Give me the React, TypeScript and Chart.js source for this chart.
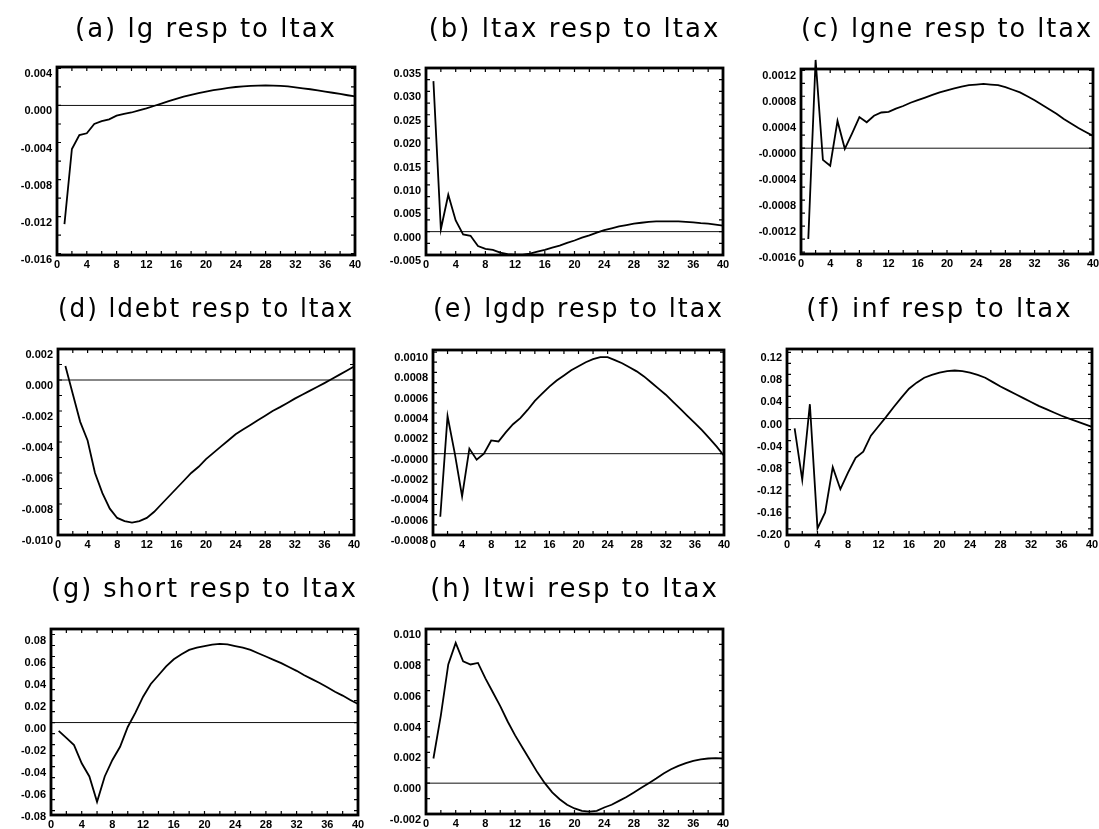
import React, { useEffect, useRef } from "react";
import { Chart, registerables } from "chart.js";

Chart.register(...registerables);

// ---------- data ----------
const horizon = [1, 2, 3, 4, 5, 6, 7, 8, 9, 10, 11, 12, 13, 14, 15, 16, 17, 18, 19, 20,
  21, 22, 23, 24, 25, 26, 27, 28, 29, 30, 31, 32, 33, 34, 35, 36, 37, 38, 39, 40];

const xTickValues = [0, 4, 8, 12, 16, 20, 24, 28, 32, 36, 40];
const xTickLabels = ["0", "4", "8", "12", "16", "20", "24", "28", "32", "36", "40"];

const titles = [
  "(a) lg resp to ltax",
  "(b) ltax resp to ltax",
  "(c) lgne resp to ltax",
  "(d) ldebt resp to ltax",
  "(e) lgdp resp to ltax",
  "(f) inf resp to ltax",
  "(g) short resp to ltax",
  "(h) ltwi resp to ltax",
];

const lgResp = [-0.0128, -0.0047, -0.0032, -0.0030, -0.0020, -0.0017, -0.0015, -0.0011, -0.0009, -0.00076,
  -0.00054, -0.00032, -0.00006, 0.0002, 0.00046, 0.00072, 0.00094, 0.00114, 0.00133, 0.0015,
  0.00165, 0.00177, 0.00189, 0.00199, 0.00206, 0.00211, 0.00214, 0.00216, 0.00215, 0.00212,
  0.00205, 0.00196, 0.00185, 0.00175, 0.00163, 0.0015, 0.00137, 0.00124, 0.0011, 0.00097];

const ltaxResp = [0.0322, 0.0005, 0.0079, 0.0024, -0.0006, -0.0009, -0.0031, -0.0037, -0.0039, -0.0045,
  -0.0048, -0.0049, -0.0049, -0.0047, -0.0043, -0.0039, -0.0034, -0.0030, -0.0024, -0.0019,
  -0.0013, -0.0008, -0.0002, 0.0003, 0.0007, 0.0011, 0.0014, 0.0017, 0.0019, 0.0021,
  0.0022, 0.0022, 0.0022, 0.0022, 0.0021, 0.0020, 0.0018, 0.0017, 0.0015, 0.0013];

const lgneResp = [-0.0014, 0.00136, -0.00018, -0.00027, 0.00042, -0.00001, 0.00023, 0.00048, 0.0004, 0.0005,
  0.00055, 0.00056, 0.00061, 0.00065, 0.0007, 0.00074, 0.00078, 0.00082, 0.00086, 0.00089,
  0.00092, 0.00095, 0.00097, 0.00098, 0.00099, 0.00098, 0.00097, 0.00094, 0.0009, 0.00086,
  0.0008, 0.00074, 0.00067, 0.0006, 0.00053, 0.00045, 0.00038, 0.00031, 0.00025, 0.00019];

const ldebtResp = [0.0009, -0.0009, -0.0027, -0.0039, -0.0060, -0.0073, -0.0083, -0.0089, -0.0091, -0.0092,
  -0.0091, -0.0089, -0.0085, -0.0080, -0.0075, -0.0070, -0.0065, -0.0060, -0.0056, -0.0051,
  -0.0047, -0.0043, -0.0039, -0.0035, -0.0032, -0.0029, -0.0026, -0.0023, -0.0020, -0.00175,
  -0.00148, -0.0012, -0.00095, -0.0007, -0.00045, -0.0002, 0.00006, 0.00033, 0.0006, 0.00087];

const lgdpResp = [-0.00062, 0.00037, 0.0, -0.00042, 0.00005, -0.00006, 0.0, 0.00013, 0.00012, 0.00021,
  0.00029, 0.00035, 0.00043, 0.00052, 0.00059, 0.00066, 0.00072, 0.00077, 0.00082, 0.00086,
  0.0009, 0.00093, 0.00095, 0.00095, 0.00092, 0.00089, 0.00085, 0.00081, 0.00076, 0.0007,
  0.00064, 0.00058, 0.00051, 0.00044, 0.00037, 0.0003, 0.00023, 0.00015, 0.00007, -0.00002];

const infResp = [-0.018, -0.111, 0.026, -0.199, -0.170, -0.088, -0.128, -0.098, -0.071, -0.060,
  -0.031, -0.014, 0.003, 0.021, 0.038, 0.054, 0.065, 0.074, 0.079, 0.083,
  0.086, 0.087, 0.086, 0.083, 0.079, 0.074, 0.066, 0.058, 0.051, 0.044,
  0.037, 0.030, 0.023, 0.017, 0.011, 0.005, 0.000, -0.005, -0.010, -0.015];

const shortResp = [-0.0075, -0.014, -0.0205, -0.037, -0.049, -0.072, -0.049, -0.034, -0.022, -0.004,
  0.009, 0.0235, 0.035, 0.043, 0.051, 0.0575, 0.062, 0.066, 0.068, 0.0695,
  0.0708, 0.0714, 0.071, 0.0695, 0.068, 0.066, 0.063, 0.060, 0.057, 0.054,
  0.0505, 0.047, 0.043, 0.0395, 0.036, 0.032, 0.028, 0.0245, 0.0205, 0.0168];

const ltwiResp = [0.0016, 0.0044, 0.0077, 0.0091, 0.0079, 0.0077, 0.0078, 0.0068, 0.0059, 0.0050,
  0.0040, 0.0031, 0.0023, 0.0015, 0.0007, 0.0, -0.0006, -0.00104, -0.0014, -0.00164,
  -0.0018, -0.00184, -0.0018, -0.00158, -0.0014, -0.00115, -0.0009, -0.0006, -0.0003, 0.0,
  0.0003, 0.00063, 0.0009, 0.00112, 0.0013, 0.00145, 0.00155, 0.0016, 0.00162, 0.0016];

const yTicksA = [-0.016, -0.012, -0.008, -0.004, 0, 0.004];
const yLabelsA = ["-0.016", "-0.012", "-0.008", "-0.004", "0.000", "0.004"];
const yTicksB = [-0.005, 0, 0.005, 0.01, 0.015, 0.02, 0.025, 0.03, 0.035];
const yLabelsB = ["-0.005", "0.000", "0.005", "0.010", "0.015", "0.020", "0.025", "0.030", "0.035"];
const yTicksC = [-0.0016, -0.0012, -0.0008, -0.0004, 0, 0.0004, 0.0008, 0.0012];
const yLabelsC = ["-0.0016", "-0.0012", "-0.0008", "-0.0004", "-0.0000", "0.0004", "0.0008", "0.0012"];
const yTicksD = [-0.01, -0.008, -0.006, -0.004, -0.002, 0, 0.002];
const yLabelsD = ["-0.010", "-0.008", "-0.006", "-0.004", "-0.002", "0.000", "0.002"];
const yTicksE = [-0.0008, -0.0006, -0.0004, -0.0002, 0, 0.0002, 0.0004, 0.0006, 0.0008, 0.001];
const yLabelsE = ["-0.0008", "-0.0006", "-0.0004", "-0.0002", "-0.0000", "0.0002", "0.0004", "0.0006", "0.0008", "0.0010"];
const yTicksF = [-0.2, -0.16, -0.12, -0.08, -0.04, 0, 0.04, 0.08, 0.12];
const yLabelsF = ["-0.20", "-0.16", "-0.12", "-0.08", "-0.04", "0.00", "0.04", "0.08", "0.12"];
const yTicksG = [-0.08, -0.06, -0.04, -0.02, 0, 0.02, 0.04, 0.06, 0.08];
const yLabelsG = ["-0.08", "-0.06", "-0.04", "-0.02", "0.00", "0.02", "0.04", "0.06", "0.08"];
const yTicksH = [-0.002, 0, 0.002, 0.004, 0.006, 0.008, 0.01];
const yLabelsH = ["-0.002", "0.000", "0.002", "0.004", "0.006", "0.008", "0.010"];

const yMins = [-0.01614, -0.005, -0.00163, -0.010, -0.0008, -0.211, -0.084, -0.002];
const yMaxs = [0.00415, 0.035, 0.00122, 0.002, 0.00102, 0.126, 0.085, 0.010];

// ---------- layout (page pixels) ----------
type Rect = { x: number; y: number; w: number; h: number };
type Box = { l: number; t: number; r: number; b: number };

const panels: { title: string; values: number[]; ticks: number[]; labels: string[]; min: number; max: number; canvas: Rect; box: Box }[] = [
  { title: titles[0], values: lgResp, ticks: yTicksA, labels: yLabelsA, min: yMins[0], max: yMaxs[0], canvas: { x: 0, y: 0, w: 368, h: 280 }, box: { l: 57, t: 67, r: 355, b: 255 } },
  { title: titles[1], values: ltaxResp, ticks: yTicksB, labels: yLabelsB, min: yMins[1], max: yMaxs[1], canvas: { x: 368, y: 0, w: 365, h: 280 }, box: { l: 426, t: 68, r: 723, b: 255 } },
  { title: titles[2], values: lgneResp, ticks: yTicksC, labels: yLabelsC, min: yMins[2], max: yMaxs[2], canvas: { x: 733, y: 0, w: 366, h: 280 }, box: { l: 801, t: 69, r: 1093, b: 254 } },
  { title: titles[3], values: ldebtResp, ticks: yTicksD, labels: yLabelsD, min: yMins[3], max: yMaxs[3], canvas: { x: 0, y: 280, w: 368, h: 280 }, box: { l: 58, t: 349, r: 354, b: 535 } },
  { title: titles[4], values: lgdpResp, ticks: yTicksE, labels: yLabelsE, min: yMins[4], max: yMaxs[4], canvas: { x: 368, y: 280, w: 365, h: 280 }, box: { l: 433, t: 350, r: 724, b: 535 } },
  { title: titles[5], values: infResp, ticks: yTicksF, labels: yLabelsF, min: yMins[5], max: yMaxs[5], canvas: { x: 733, y: 280, w: 366, h: 280 }, box: { l: 787, t: 349, r: 1092, b: 535 } },
  { title: titles[6], values: shortResp, ticks: yTicksG, labels: yLabelsG, min: yMins[6], max: yMaxs[6], canvas: { x: 0, y: 560, w: 368, h: 269 }, box: { l: 51, t: 629, r: 358, b: 815 } },
  { title: titles[7], values: ltwiResp, ticks: yTicksH, labels: yLabelsH, min: yMins[7], max: yMaxs[7], canvas: { x: 368, y: 560, w: 365, h: 269 }, box: { l: 426, t: 629, r: 723, b: 814 } },
];

const TITLE_FONT = { family: "'DejaVu Sans', sans-serif", size: 26, weight: "normal" as const, lineHeight: 1.2 };
const TICK_FONT = { family: "'Liberation Sans', Arial, sans-serif", size: 11, weight: "bold" as const };

const framePlugin = {
  id: "frame",
  beforeDraw(chart: any) {
    chart.ctx.letterSpacing = "2px";
  },
  beforeDatasetsDraw(chart: any) {
    chart.ctx.letterSpacing = "0px";
  },
  afterDraw(chart: any) {
    const { ctx, chartArea: a } = chart;
    const x = chart.scales.x;
    const y = chart.scales.y;
    const yt: number[] = chart.options.plugins.frame.yTicks;
    ctx.save();
    ctx.strokeStyle = "#000";
    ctx.lineWidth = 1.2;
    ctx.beginPath();
    const xs: number[] = [];
    for (let i = 0; i < xTickValues.length; i++) {
      xs.push(xTickValues[i]);
      if (i < xTickValues.length - 1) xs.push((xTickValues[i] + xTickValues[i + 1]) / 2);
    }
    xs.forEach((v) => {
      const px = x.getPixelForValue(v);
      ctx.moveTo(px, a.bottom);
      ctx.lineTo(px, a.bottom - 4);
      ctx.moveTo(px, a.top);
      ctx.lineTo(px, a.top + 4);
    });
    const ys: number[] = [];
    const step = yt[1] - yt[0];
    for (let i = 0; i < yt.length; i++) {
      ys.push(yt[i]);
      ys.push(yt[i] + step / 2);
    }
    ys.push(yt[0] - step / 2);
    ys.forEach((v) => {
      const py = y.getPixelForValue(v);
      if (py < a.top - 0.5 || py > a.bottom + 0.5) return;
      ctx.moveTo(a.left, py);
      ctx.lineTo(a.left + 4, py);
      ctx.moveTo(a.right, py);
      ctx.lineTo(a.right - 4, py);
    });
    ctx.stroke();
    ctx.lineWidth = 2.8;
    ctx.strokeRect(a.left, a.top, a.right - a.left, a.bottom - a.top);
    ctx.restore();
  },
};

function Panel({ cfg }: { cfg: (typeof panels)[number] }) {
  const ref = useRef<HTMLCanvasElement>(null);
  const { canvas: cv, box } = cfg;
  useEffect(() => {
    if (!ref.current) return;
    const leftW = box.l - cv.x;
    const bottomH = cv.y + cv.h - box.b;
    const rightPad = cv.x + cv.w - box.r;
    const titleH = box.t - cv.y;
    const lineH = TITLE_FONT.size * TITLE_FONT.lineHeight;
    const padTop = 30 - lineH / 2;
    const padBottom = titleH - padTop - lineH;
    const chart = new Chart(ref.current, {
      type: "line",
      data: {
        datasets: [
          {
            data: cfg.values.map((v, i) => ({ x: horizon[i], y: v })),
            borderColor: "#000",
            borderWidth: 1.8,
            pointRadius: 0,
            tension: 0,
            clip: false as any,
            order: 0,
          },
          {
            data: [
              { x: 0, y: 0 },
              { x: 40, y: 0 },
            ],
            borderColor: "#111",
            borderWidth: 1,
            pointRadius: 0,
            order: 1,
          },
        ],
      },
      options: {
        animation: false,
        responsive: false,
        maintainAspectRatio: false,
        events: [],
        layout: { padding: { left: 0, right: rightPad, top: 0, bottom: 0 } },
        plugins: {
          legend: { display: false },
          tooltip: { enabled: false },
          title: {
            display: true,
            text: cfg.title,
            fullSize: false,
            color: "#000",
            font: TITLE_FONT,
            padding: { top: padTop, bottom: padBottom },
          },
          frame: { yTicks: cfg.ticks },
        } as any,
        scales: {
          x: {
            type: "linear",
            min: 0,
            max: 40,
            grid: { display: false, drawTicks: false },
            border: { display: false },
            afterBuildTicks: (s: any) => {
              s.ticks = xTickValues.map((v) => ({ value: v }));
            },
            afterFit: (s: any) => {
              s.height = bottomH;
              s.paddingLeft = 0;
              s.paddingRight = 0;
            },
            ticks: {
              z: 1,
              autoSkip: false,
              maxRotation: 0,
              minRotation: 0,
              padding: 3,
              color: "#000",
              font: TICK_FONT,
              callback: (_v: any, i: number) => xTickLabels[i],
            },
          },
          y: {
            type: "linear",
            min: cfg.min,
            max: cfg.max,
            grid: { display: false, drawTicks: false },
            border: { display: false },
            afterBuildTicks: (s: any) => {
              s.ticks = cfg.ticks.map((v) => ({ value: v }));
            },
            afterFit: (s: any) => {
              s.width = leftW;
              s.paddingTop = 0;
              s.paddingBottom = 0;
            },
            ticks: {
              z: 1,
              autoSkip: false,
              padding: 5,
              labelOffset: 6,
              color: "#000",
              font: TICK_FONT,
              callback: (_v: any, i: number) => cfg.labels[i],
            },
          },
        },
      },
      plugins: [framePlugin as any],
    });
    return () => chart.destroy();
  }, []);
  return (
    <canvas
      ref={ref}
      width={cv.w}
      height={cv.h}
      style={{ position: "absolute", left: cv.x, top: cv.y, width: cv.w, height: cv.h }}
    />
  );
}

export default function App() {
  return (
    <div style={{ position: "absolute", left: 0, top: 0, width: 1099, height: 829, background: "#fff", overflow: "hidden" }}>
      {panels.map((p, i) => (
        <Panel key={i} cfg={p} />
      ))}
    </div>
  );
}
